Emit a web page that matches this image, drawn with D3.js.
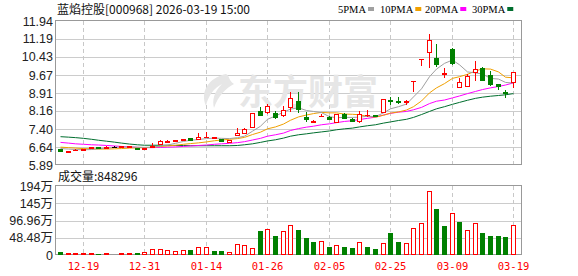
<!DOCTYPE html>
<html>
<head>
<meta charset="utf-8">
<script src="https://cdn.jsdelivr.net/npm/d3@7/dist/d3.min.js"></script>
<style>
  body { margin: 0; background: #fff; }
  svg { display: block; }
</style>
</head>
<body>
<svg id="chart"></svg>
<script>
// chart data
const title = '蓝焰控股[000968] 2026-03-19 15:00';
const dates = ['12-16','12-17','12-18','12-19','12-22','12-23','12-24','12-25','12-26','12-29','12-30','12-31',
  '01-05','01-06','01-07','01-08','01-09','01-12','01-13','01-14','01-15','01-16','01-19','01-20','01-21','01-22','01-23',
  '01-26','01-27','01-28','01-29','01-30','02-02','02-03','02-04','02-05','02-06','02-09','02-10','02-11','02-12','02-13',
  '02-24','02-25','02-26','02-27','03-02','03-03','03-04','03-05','03-06','03-09','03-10','03-11','03-12','03-13',
  '03-16','03-17','03-18','03-19'];
const opens = [6.56,6.45,6.50,6.54,6.60,6.65,6.62,6.65,6.64,6.66,6.60,6.56,6.64,6.79,6.86,6.90,6.95,7.02,6.98,7.05,
  7.03,6.98,6.87,7.15,7.23,7.49,8.16,8.12,8.07,7.99,8.31,8.58,7.91,7.70,7.93,7.91,7.70,8.05,7.84,7.72,
  7.99,7.99,8.12,8.62,8.56,8.52,9.42,10.36,10.63,10.40,9.72,10.76,9.15,9.22,9.78,9.98,9.67,9.29,8.97,9.36];
const highs = [6.58,6.49,6.55,6.58,6.66,6.66,6.67,6.67,6.69,6.70,6.62,6.62,6.81,6.92,6.95,6.94,7.00,7.03,7.23,7.27,
  7.08,7.00,6.95,7.44,7.44,8.09,8.33,8.45,8.16,8.37,8.96,8.94,8.12,7.78,8.03,7.95,8.05,8.09,7.86,8.16,
  8.20,8.01,8.68,8.75,8.75,8.62,9.42,10.36,11.40,10.96,9.97,10.80,9.55,9.70,10.26,10.02,9.84,9.30,9.04,9.80];
const lows = [6.44,6.38,6.49,6.52,6.58,6.61,6.60,6.63,6.62,6.64,6.54,6.54,6.62,6.77,6.80,6.88,6.93,6.93,6.96,7.03,
  7.00,6.88,6.85,7.13,7.21,7.47,7.93,8.03,7.82,7.91,8.12,8.07,7.70,7.66,7.91,7.80,7.66,7.84,7.72,7.66,
  7.91,7.93,8.10,8.41,8.45,8.41,8.97,10.06,9.98,10.02,9.53,10.10,9.14,9.20,9.42,9.42,9.20,9.04,8.69,9.14];
const closes = [6.46,6.48,6.53,6.57,6.64,6.62,6.65,6.65,6.67,6.68,6.56,6.60,6.70,6.89,6.90,6.92,6.98,6.95,7.06,7.08,
  7.05,6.90,6.93,7.23,7.40,8.07,7.99,8.37,7.91,8.20,8.71,8.24,7.82,7.74,7.96,7.84,8.03,7.88,7.74,8.03,
  8.01,7.95,8.66,8.58,8.52,8.56,9.42,10.36,11.14,10.12,9.74,10.16,9.36,9.64,9.92,9.46,9.28,9.22,8.93,9.78];
// volume in 万 (10k)
const volumes = [8.4,5.6,5.6,5.6,5.6,2.8,5.6,3.7,5.6,5.6,5.6,8.4,17.8,17.8,13.0,10.3,13.0,14.0,21.5,21.5,
  11.2,11.2,8.4,30.9,27.2,19.7,67.4,72.1,53.4,66.5,83.4,70.2,46.8,37.5,39.3,23.4,27.2,22.5,19.7,35.6,
  22.5,16.9,32.8,62.8,37.5,33.7,74.9,89.0,179.8,129.2,81.5,117.0,93.7,70.2,89.0,62.8,53.4,53.4,50.6,84.8296];
const ma5 = [6.58,6.56,6.54,6.53,6.54,6.57,6.60,6.63,6.65,6.65,6.64,6.63,6.64,6.69,6.73,6.80,6.88,6.93,6.96,7.00,
  7.02,7.01,7.00,7.04,7.10,7.31,7.52,7.81,7.95,8.11,8.24,8.29,8.18,8.14,8.09,7.92,7.88,7.89,7.89,7.90,
  7.94,7.92,8.08,8.25,8.34,8.45,8.75,9.09,9.60,9.92,10.16,10.30,10.10,9.80,9.76,9.71,9.53,9.50,9.36,9.33];
const ma10 = [6.64,6.62,6.60,6.58,6.57,6.56,6.56,6.57,6.58,6.60,6.61,6.62,6.63,6.67,6.69,6.72,6.76,6.79,6.82,6.86,
  6.91,6.94,6.97,7.00,7.05,7.17,7.27,7.41,7.49,7.61,7.77,7.91,7.99,8.05,8.10,8.08,8.08,8.03,8.02,8.00,
  7.93,7.90,7.98,8.07,8.12,8.20,8.34,8.58,8.92,9.13,9.31,9.53,9.60,9.70,9.84,9.93,9.92,9.80,9.58,9.55];
const ma20 = [6.84,6.81,6.78,6.76,6.74,6.73,6.71,6.69,6.67,6.65,6.63,6.62,6.62,6.63,6.64,6.65,6.67,6.69,6.71,6.73,
  6.76,6.78,6.80,6.83,6.87,6.94,7.01,7.10,7.16,7.23,7.34,7.42,7.48,7.52,7.58,7.62,7.67,7.72,7.75,7.80,
  7.85,7.90,7.99,8.06,8.11,8.14,8.21,8.31,8.47,8.57,8.62,8.71,8.79,8.89,8.98,9.06,9.13,9.19,9.25,9.34];
const ma30 = [7.08,7.06,7.04,7.01,6.97,6.93,6.89,6.85,6.81,6.77,6.74,6.72,6.72,6.72,6.72,6.71,6.71,6.70,6.70,6.70,
  6.70,6.70,6.70,6.71,6.74,6.78,6.84,6.90,6.95,7.02,7.10,7.16,7.20,7.24,7.28,7.32,7.37,7.41,7.44,7.49,
  7.54,7.58,7.65,7.70,7.76,7.81,7.89,8.01,8.14,8.25,8.34,8.44,8.52,8.61,8.69,8.74,8.78,8.81,8.84,8.89];

const priceTicks = ['5.89','6.64','7.40','8.16','8.91','9.67','10.43','11.19','11.94'];
const volTicks = [0, 48.48, 96.96, 145.44, 193.92];
const volTickLabels = ['0', '48.48万', '96.96万', '145万', '194万'];
const dateTicks = ['12-19','12-31','01-14','01-26','02-05','02-25','03-09','03-19'];
const maNames = ['5PMA', '10PMA', '20PMA', '30PMA'];
const maColors = ['#a0a0a0', '#f0a000', '#ff00ff', '#006e2e'];

const width = 578;
const height = 276;
const plot = { left: 56, right: 522, top: 21, bottom: 165 };
const vplot = { top: 186, bottom: 255 };
const UP = '#ff0000', DOWN = '#008000';

const svg = d3.select('#chart').attr('width', width).attr('height', height)
  .style('font-family', '"Liberation Sans", Arial, sans-serif');

const x = d3.scaleBand().domain(dates).range([plot.left, 517]).padding(0);
const cx = d => Math.round(x(d) + x.bandwidth() / 2);
const y = d3.scaleLinear().domain([+priceTicks[0], +priceTicks[priceTicks.length - 1]])
  .range([plot.bottom, plot.top]);
const yv = d3.scaleLinear().domain([0, volTicks[volTicks.length - 1]]).range([vplot.bottom, vplot.top]);
const px = v => Math.round(v) + 0.5;

// grid: horizontal
const grid = svg.append('g').attr('shape-rendering', 'crispEdges');
grid.selectAll('.hp').data(priceTicks.slice(1, -1)).enter().append('line')
  .attr('x1', plot.left).attr('x2', plot.right)
  .attr('y1', d => px(y(+d))).attr('y2', d => px(y(+d)))
  .attr('stroke', '#cccccc');
grid.selectAll('.hv').data(volTicks.slice(1, -1)).enter().append('line')
  .attr('x1', plot.left).attr('x2', plot.right)
  .attr('y1', d => px(yv(d))).attr('y2', d => px(yv(d)))
  .attr('stroke', '#cccccc');
// grid: vertical dashed at date labels
[[plot.top, plot.bottom], [vplot.top, vplot.bottom]].forEach(([t, b]) => {
  grid.selectAll(null).data(dateTicks).enter().append('line')
    .attr('x1', d => cx(d) + 0.5).attr('x2', d => cx(d) + 0.5)
    .attr('y1', t).attr('y2', b)
    .attr('stroke', '#c8c8c8').attr('stroke-dasharray', '4,3');
});

// watermark
const wm = svg.append('g').attr('fill', '#e6e6e6');
wm.append('path')
  .attr('d', 'M226,74 C208,78 200,92 206,106 C208,96 214,88 222,84 C214,92 212,100 214,108 C218,96 226,88 234,84 C228,80 230,76 226,74 Z');
wm.append('text').attr('x', 238).attr('y', 105)
  .attr('font-family', '"Noto Sans CJK SC", sans-serif').attr('font-weight', 'bold')
  .attr('font-size', 35).text('东方财富');

// borders
const frame = svg.append('g').attr('fill', 'none').attr('stroke', '#999999').attr('shape-rendering', 'crispEdges');
frame.append('rect').attr('x', plot.left - 0.5).attr('y', plot.top - 0.5)
  .attr('width', plot.right - plot.left).attr('height', plot.bottom - plot.top);
frame.append('rect').attr('x', plot.left - 0.5).attr('y', vplot.top - 0.5)
  .attr('width', plot.right - plot.left).attr('height', vplot.bottom - vplot.top);

// moving averages
const mas = [ma5, ma10, ma20, ma30];
const line = d3.line().x((d, i) => cx(dates[i]) + 0.5).y(d => y(d));
mas.slice().reverse().forEach((m, k) => {
  svg.append('path').datum(m).attr('d', line)
    .attr('fill', 'none').attr('stroke', maColors[3 - k]).attr('stroke-width', 1);
});

// candles
function candleColor(i) {
  if (closes[i] > opens[i]) return UP;
  if (closes[i] < opens[i]) return DOWN;
  const prev = i > 0 ? closes[i - 1] : opens[i];
  return closes[i] > prev ? UP : closes[i] < prev ? DOWN : '#000000';
}
const candles = svg.append('g').attr('shape-rendering', 'crispEdges');
dates.forEach((d, i) => {
  const c = cx(d);
  const col = candleColor(i);
  const top = Math.round(y(Math.max(opens[i], closes[i])));
  const bot = Math.round(y(Math.min(opens[i], closes[i])));
  candles.append('line').attr('x1', c + 0.5).attr('x2', c + 0.5)
    .attr('y1', y(highs[i])).attr('y2', y(lows[i])).attr('stroke', col);
  if (bot - top < 1) {
    candles.append('line').attr('x1', c - 2).attr('x2', c + 3)
      .attr('y1', top + 0.5).attr('y2', top + 0.5).attr('stroke', col);
  } else if (col === UP) {
    candles.append('rect').attr('x', c - 1.5).attr('y', top + 0.5)
      .attr('width', 4).attr('height', bot - top)
      .attr('fill', '#fff').attr('stroke', col);
  } else {
    candles.append('rect').attr('x', c - 2).attr('y', top)
      .attr('width', 5).attr('height', bot - top + 1).attr('fill', col);
  }
});

// volume bars
const vbars = svg.append('g').attr('shape-rendering', 'crispEdges');
dates.forEach((d, i) => {
  const c = cx(d);
  const up = i === 0 ? closes[0] >= opens[0] : closes[i] >= closes[i - 1];
  const top = Math.round(yv(volumes[i]));
  if (up) {
    vbars.append('rect').attr('x', c - 1.5).attr('y', top + 0.5)
      .attr('width', 4).attr('height', vplot.bottom - top - 1)
      .attr('fill', '#fff').attr('stroke', UP);
  } else {
    vbars.append('rect').attr('x', c - 2).attr('y', top)
      .attr('width', 5).attr('height', vplot.bottom - top).attr('fill', DOWN);
  }
});

// axis labels
svg.selectAll('.pl').data(priceTicks).enter().append('text')
  .attr('x', 53).attr('y', d => y(+d) + 4.5)
  .attr('text-anchor', 'end').attr('font-size', 12.5).attr('fill', '#222')
  .text(d => d);
svg.selectAll('.vl').data(volTicks).enter().append('text')
  .attr('x', 53).attr('y', d => yv(d) + 4.5)
  .attr('text-anchor', 'end').attr('font-size', 12.5).attr('fill', '#222')
  .attr('font-family', '"Liberation Sans", "Noto Sans CJK SC", sans-serif')
  .text((d, i) => volTickLabels[i]);
svg.selectAll('.xl').data(dateTicks).enter().append('text')
  .attr('x', d => cx(d) + 0.5).attr('y', 270)
  .attr('text-anchor', 'middle').attr('font-size', 10.5).attr('fill', '#ff0000')
  .attr('font-family', '"DejaVu Sans Mono", monospace')
  .text(d => d);

// title and volume caption
svg.append('text').attr('x', 57).attr('y', 13.5)
  .attr('font-family', '"Noto Sans CJK SC", sans-serif').attr('font-size', 12).attr('fill', '#111')
  .text(title);
svg.append('text').attr('x', 58).attr('y', 181)
  .attr('font-family', '"Noto Sans CJK SC", sans-serif').attr('font-size', 12).attr('fill', '#111')
  .text('成交量:' + Math.round(volumes[volumes.length - 1] * 10000));

// legend
const legendX = [338, 380, 425, 472];
maNames.forEach((n, i) => {
  const t = svg.append('text').attr('x', legendX[i]).attr('y', 12.5)
    .attr('font-family', '"Liberation Serif", serif').attr('font-size', 10.5).attr('fill', '#000')
    .text(n);
  const w = t.node().getComputedTextLength();
  svg.append('rect').attr('x', legendX[i] + w + 2).attr('y', 7)
    .attr('width', 6).attr('height', 4).attr('fill', maColors[i]);
});
</script>
</body>
</html>
